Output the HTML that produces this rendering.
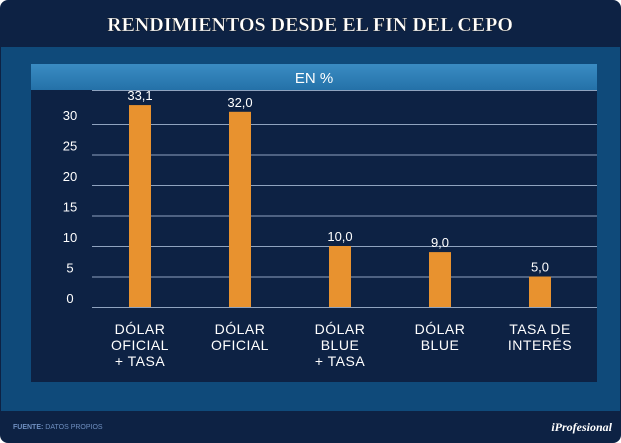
<!DOCTYPE html>
<html><head><meta charset="utf-8"><style>
body{margin:0;background:#fff;}
#wrap{position:relative;width:621px;height:443px;overflow:hidden;font-family:"Liberation Sans",sans-serif;}
</style></head><body>
<div id="wrap">
<svg width="621" height="443" xmlns="http://www.w3.org/2000/svg" id="svg">
<defs>
<linearGradient id="hg" x1="0" y1="0" x2="0" y2="1"><stop offset="0" stop-color="#3a8cc3"/><stop offset="1" stop-color="#2471a8"/></linearGradient>
</defs>
<rect x="0" y="0" width="621" height="443" rx="8" fill="#0d2244"/>
<rect x="1" y="47" width="619" height="364" fill="#0f4a7a"/>
<text x="310" y="31" text-anchor="middle" font-family="Liberation Serif, serif" font-weight="bold" font-size="20" fill="#fff" stroke="#000" stroke-width="0.3">RENDIMIENTOS DESDE EL FIN DEL CEPO</text>
<rect x="31" y="64" width="566" height="318" fill="#0d2244"/>
<rect x="31" y="64" width="566" height="26" fill="url(#hg)"/>
<text x="314" y="83" text-anchor="middle" font-size="15" fill="#fff">EN %</text>
<g id="chart"></g>
<text x="13" y="429" font-size="7" fill="#6f8fc0"><tspan font-weight="bold">FUENTE:</tspan> DATOS PROPIOS</text>
<text x="612" y="431" text-anchor="end" font-family="Liberation Serif, serif" font-style="italic" font-weight="bold" font-size="12" fill="#fff">iProfesional</text>
</svg>
</div>
<script>
const categories=[["DÓLAR","OFICIAL","+ TASA"],["DÓLAR","OFICIAL"],["DÓLAR","BLUE","+ TASA"],["DÓLAR","BLUE"],["TASA DE","INTERÉS"]];
const values=[33.1,32.0,10.0,9.0,5.0];
const valueLabels=["33,1","32,0","10,0","9,0","5,0"];
const ticks=[0,5,10,15,20,25,30];
const NS="http://www.w3.org/2000/svg";
const g=document.getElementById('chart');
const y=v=>307-v*6.1;
const x=i=>140+i*100;
function mk(t,a){const e=document.createElementNS(NS,t);for(const k in a)e.setAttribute(k,a[k]);g.appendChild(e);return e;}
const topLine=mk('line',{x1:92,x2:597,y1:90.5,y2:90.5,stroke:'#8fa3bf','stroke-width':1});


ticks.forEach(t=>{
 const l=mk('line',{x1:92,x2:597,y1:y(t)+0.5,y2:y(t)+0.5,stroke:'#8fa3bf','stroke-width':1});
 
 
 const tx=mk('text',{x:70,y:y(t)-4,'text-anchor':'middle','font-size':13,fill:'#fff'});
 tx.textContent=t;
 
 
});
values.forEach((v,i)=>{
 const r=mk('rect',{x:x(i)-11,y:y(v),width:22,height:307-y(v),fill:'#e8922f'});
 
 
 const t=mk('text',{x:x(i),y:y(v)-5,'text-anchor':'middle','font-size':13,fill:'#fff'});
 t.textContent=valueLabels[i];
 
 
 categories[i].forEach((line,j)=>{
  const c=mk('text',{x:x(i),y:334+j*16,'text-anchor':'middle','font-size':14,fill:'#fff','letter-spacing':'0.5'});
  c.textContent=line;
  
  
 });
});
</script>
</body></html>
